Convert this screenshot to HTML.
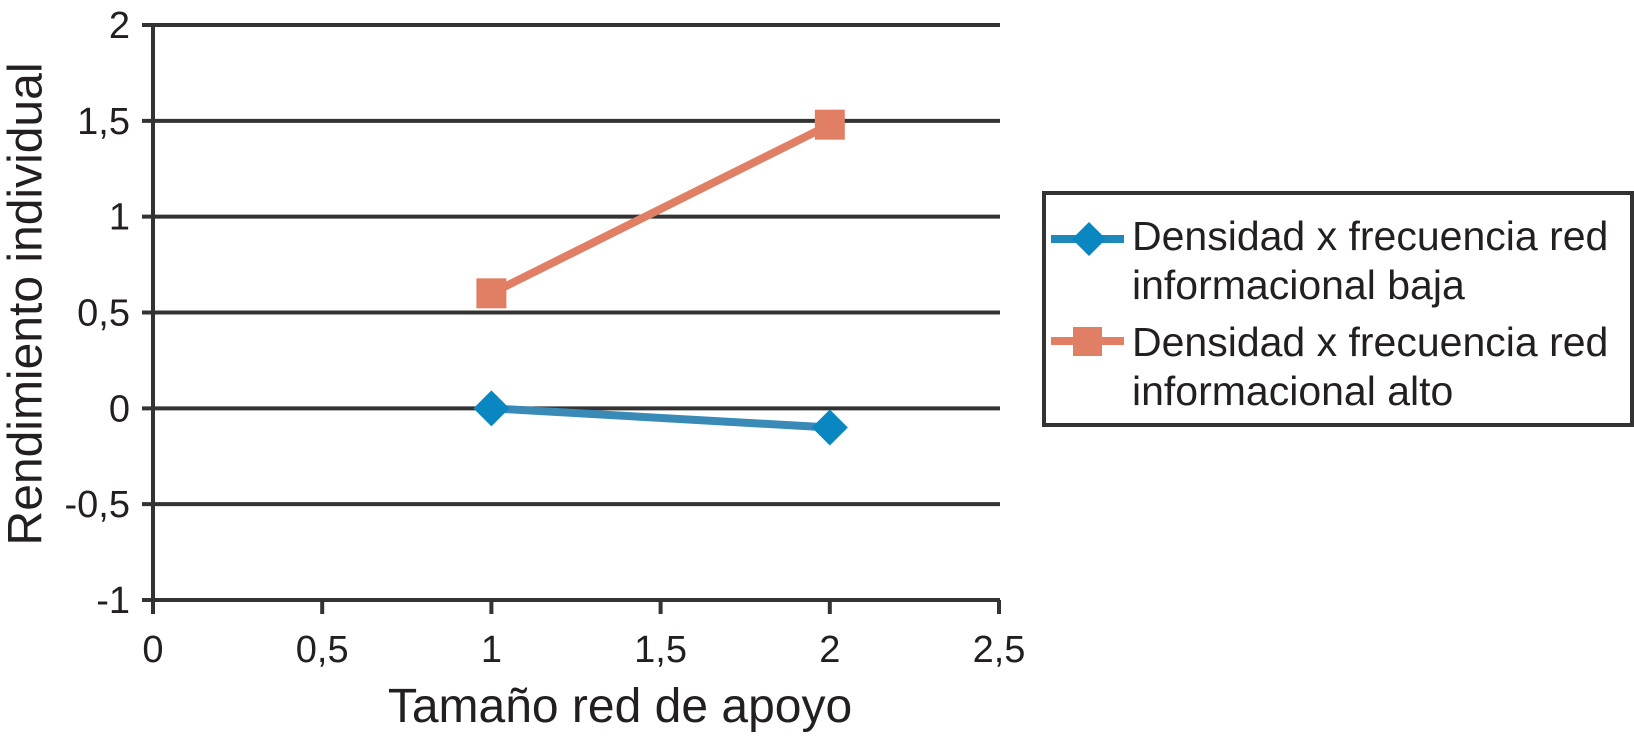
<!DOCTYPE html>
<html><head><meta charset="utf-8"><style>
html,body{margin:0;padding:0;background:#fff}
svg{display:block;font-family:"Liberation Sans",Arial,sans-serif}
</style></head><body>
<svg id="chart" width="1634" height="744" viewBox="0 0 1634 744">
<g id="grid"></g><g id="axes"></g><g id="series"></g>
<text x="26" y="304" font-size="48" fill="#231f20" text-anchor="middle" transform="rotate(-90 26 304)" dominant-baseline="central">Rendimiento individual</text>
<text x="620" y="722" font-size="48" fill="#231f20" text-anchor="middle">Tamaño red de apoyo</text>
<g>
<rect x="1044" y="193" width="588" height="232" fill="#fff" stroke="#333" stroke-width="4"/>
<g>
<line x1="1051" y1="239" x2="1124" y2="239" stroke="#1f88bb" stroke-width="8"/>
<polygon points="1089,222 1106,239 1089,256 1072,239" fill="#0a86c0"/>
<text x="1132" y="250" font-size="41" fill="#231f20">Densidad x frecuencia red</text>
<text x="1132" y="299" font-size="41" fill="#231f20">informacional baja</text>
</g>
<g>
<line x1="1051" y1="341" x2="1124" y2="341" stroke="#e07f64" stroke-width="8"/>
<rect x="1073" y="327" width="29" height="29" fill="#e07f64"/>
<text x="1132" y="356" font-size="41" fill="#231f20">Densidad x frecuencia red</text>
<text x="1132" y="405" font-size="41" fill="#231f20">informacional alto</text>
</g>
</g>
</svg>
<script>
const xTicks=[0,0.5,1,1.5,2,2.5];
const xTickLabels=["0","0,5","1","1,5","2","2,5"];
const yTicks=[-1,-0.5,0,0.5,1,1.5,2];
const yTickLabels=["-1","-0,5","0","0,5","1","1,5","2"];
const xValues=[1,2];
const bajaValues=[0,-0.1];
const altoValues=[0.6,1.48];
const NS="http://www.w3.org/2000/svg";
const X=v=>153+v*(999-153)/2.5;
const Y=v=>600-(v+1)*(600-25)/3;
function mk(tag,attrs,parent){const e=document.createElementNS(NS,tag);for(const k in attrs)e.setAttribute(k,attrs[k]);parent.appendChild(e);return e;}
const grid=document.getElementById('grid'),axes=document.getElementById('axes'),series=document.getElementById('series');
yTicks.forEach((t,i)=>{
 const l=mk('line',{x1:142,x2:1000,y1:Y(t),y2:Y(t),stroke:'#333','stroke-width':4},grid);
 
 
 const tx=mk('text',{x:130,y:Y(t)+13,'font-size':38,fill:'#231f20','text-anchor':'end'},axes);
 tx.textContent=yTickLabels[i];
 
 
});
const ya=mk('line',{x1:X(0),x2:X(0),y1:Y(2),y2:Y(-1)+14,stroke:'#333','stroke-width':4},axes);


xTicks.forEach((t,i)=>{
 const l=mk('line',{x1:X(t),x2:X(t),y1:Y(-1),y2:Y(-1)+14,stroke:'#333','stroke-width':4},axes);
 
 
 const tx=mk('text',{x:X(t),y:662,'font-size':38,fill:'#231f20','text-anchor':'middle'},axes);
 tx.textContent=xTickLabels[i];
 
 
});
function drawSeries(vals,color,shape,name){
 const pts=xValues.map((x,i)=>X(x)+','+Y(vals[i])).join(' ');
 const pl=mk('polyline',{points:pts,fill:'none',stroke:color,'stroke-width':8},series);
 
 
 xValues.forEach((x,i)=>{
  const cx=X(x),cy=Y(vals[i]);let m;
  if(shape==='d')m=mk('polygon',{points:`${cx},${cy-18} ${cx+18},${cy} ${cx},${cy+18} ${cx-18},${cy}`,fill:'#0a86c0'},series);
  else m=mk('rect',{x:cx-15,y:cy-15,width:30,height:30,fill:color},series);
  
  
 });
}
drawSeries(bajaValues,'#3a8ab8','d','baja');
drawSeries(altoValues,'#e07f64','s','alto');
</script>
</body></html>
